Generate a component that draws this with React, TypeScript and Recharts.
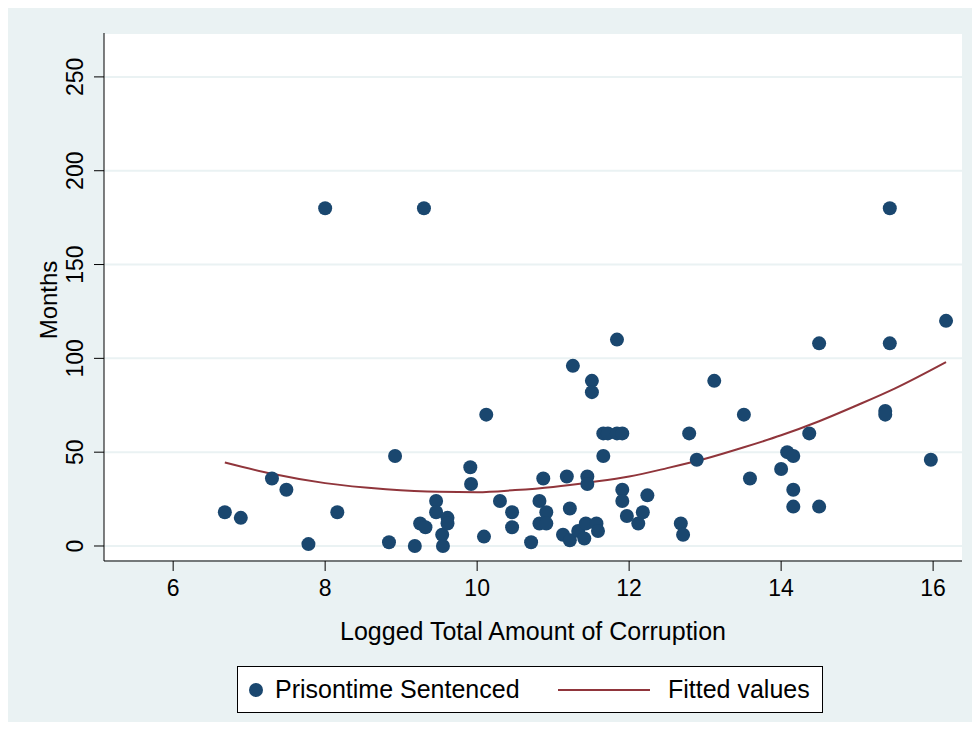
import React from 'react';
import { ScatterChart, Scatter, XAxis, YAxis, CartesianGrid } from 'recharts';

// logged corruption amount vs. months sentenced
const logAmount = [
  6.68, 6.89, 7.3, 7.49, 7.78, 8.0, 8.16, 8.84, 8.92, 9.18, 9.25, 9.3, 9.32, 9.46, 9.46,
  9.54, 9.55, 9.61, 9.61, 9.91, 9.92, 10.09, 10.12, 10.3, 10.46, 10.46, 10.71, 10.82, 10.82,
  10.87, 10.91, 10.91, 11.13, 11.18, 11.22, 11.22, 11.26, 11.33, 11.41, 11.43, 11.45, 11.45,
  11.51, 11.51, 11.57, 11.59, 11.66, 11.66, 11.72, 11.84, 11.84, 11.91, 11.91, 11.91, 11.97,
  12.12, 12.18, 12.24, 12.68, 12.71, 12.79, 12.89, 13.12, 13.51, 13.59, 14.0, 14.08, 14.16,
  14.16, 14.16, 14.37, 14.5, 14.5, 15.37, 15.37, 15.43, 15.43, 15.97, 16.17,
];
const months = [
  18, 15, 36, 30, 1, 180, 18, 2, 48, 0, 12, 180, 10, 24, 18,
  6, 0, 15, 12, 42, 33, 5, 70, 24, 18, 10, 2, 12, 24,
  36, 18, 12, 6, 37, 20, 3, 96, 8, 4, 12, 37, 33,
  88, 82, 12, 8, 60, 48, 60, 110, 60, 60, 30, 24, 16,
  12, 18, 27, 12, 6, 60, 46, 88, 70, 36, 41, 50, 48,
  30, 21, 60, 108, 21, 72, 70, 180, 108, 46, 120,
];

// quadratic fit, sampled from the drawn curve
const fitX = [6.68, 7.3, 8, 8.8, 9.5, 10, 10.5, 11, 11.5, 12, 12.5, 13, 13.5, 14, 14.5, 15, 15.5, 16.17];
const fitY = [44.5, 38.5, 33.5, 30.3, 28.9, 28.7, 29.8, 31.5, 34, 37, 41.5, 46.5, 52.5, 59, 66.5, 75, 84, 98];

const xTicks = [6, 8, 10, 12, 14, 16];
const yTicks = [0, 50, 100, 150, 200, 250];

const navy = '#1a476f';
const maroon = '#90353b';
const bg = '#eaf2f3';

const points = logAmount.map((x, i) => ({ x, y: months[i] }));
const fitted = fitX.map((x, i) => ({ x, y: fitY[i] }));

const XTick = (props: any) => (
  <text x={props.x} y={props.y + 15} textAnchor="middle" dominantBaseline="central" fontSize={23} fill="#000">
    {props.payload.value}
  </text>
);

const YTick = (props: any) => {
  const cx = props.x - 17;
  return (
    <text x={cx} y={props.y} textAnchor="middle" dominantBaseline="central" fontSize={23} fill="#000"
      transform={`rotate(-90, ${cx}, ${props.y})`}>
      {props.payload.value}
    </text>
  );
};

export default function App() {
  return (
    <div style={{ position: 'relative', width: 968, height: 714, marginLeft: -2, background: bg, fontFamily: '"Liberation Sans", Arial, sans-serif' }}>
      <ScatterChart width={968} height={714} margin={{ top: 25, right: 12, left: 0, bottom: 81 }}>
        <CartesianGrid vertical={false} stroke={bg} strokeWidth={2} fill="#fff" />
        <XAxis type="number" dataKey="x" domain={[5.09, 16.38]} ticks={xTicks} allowDataOverflow
          height={80} stroke="#000" tickSize={10} tick={XTick}
          label={(p: any) => (
            <text x={p.viewBox.x + p.viewBox.width / 2} y={p.viewBox.y + 70} textAnchor="middle"
              dominantBaseline="central" fontSize={25}>Logged Total Amount of Corruption</text>
          )} />
        <YAxis type="number" dataKey="y" domain={[-8, 273.4]} ticks={yTicks} allowDataOverflow
          width={98} stroke="#000" tickSize={10} tick={YTick}
          label={(p: any) => {
            const cx = 42;
            const cy = p.viewBox.y + p.viewBox.height / 2 + 3;
            return (
              <text x={cx} y={cy} textAnchor="middle" dominantBaseline="central" fontSize={24}
                transform={`rotate(-90, ${cx}, ${cy})`}>Months</text>
            );
          }} />
        <Scatter data={fitted} line={{ stroke: maroon, strokeWidth: 2 }} lineJointType="monotoneX"
          shape={() => <g />} isAnimationActive={false} />
        <Scatter data={points} fill={navy} isAnimationActive={false}
          shape={(p: any) => <circle cx={p.cx} cy={p.cy} r={7} fill={navy} />} />
      </ScatterChart>
      <div style={{ position: 'absolute', left: 231, top: 658, width: 584, height: 45, background: '#fff', border: '1px solid #000', fontSize: 25 }}>
        <svg width={16} height={16} style={{ position: 'absolute', left: 10, top: 15 }}>
          <circle cx={8} cy={8} r={7} fill={navy} />
        </svg>
        <span style={{ position: 'absolute', left: 37, top: 22, transform: 'translateY(-50%)', whiteSpace: 'nowrap' }}>Prisontime Sentenced</span>
        <svg width={92} height={4} style={{ position: 'absolute', left: 320, top: 21 }}>
          <line x1={0} y1={2} x2={92} y2={2} stroke={maroon} strokeWidth={2} />
        </svg>
        <span style={{ position: 'absolute', left: 430, top: 22, transform: 'translateY(-50%)', whiteSpace: 'nowrap' }}>Fitted values</span>
      </div>
    </div>
  );
}
